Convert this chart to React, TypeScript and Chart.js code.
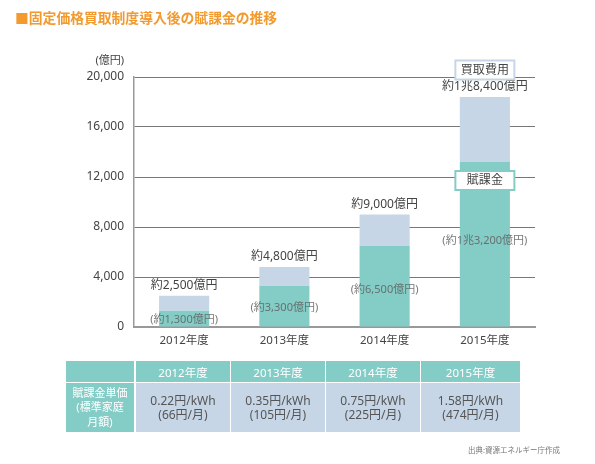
import React, { useEffect, useRef } from "react";
import { Chart, registerables } from "chart.js";

Chart.register(...registerables);

const categories = ["2012年度", "2013年度", "2014年度", "2015年度"];
const totals = [2500, 4800, 9000, 18400];
const levy = [1300, 3300, 6500, 13200];
const totalLabels = ["約2,500億円", "約4,800億円", "約9,000億円", "約1兆8,400億円"];
const levyLabels = ["(約1,300億円)", "(約3,300億円)", "(約6,500億円)", "(約1兆3,200億円)"];
const yTicks = [0, 4000, 8000, 12000, 16000, 20000];
const unitPrices = ["0.22円/kWh", "0.35円/kWh", "0.75円/kWh", "1.58円/kWh"];
const monthly = ["(66円/月)", "(105円/月)", "(225円/月)", "(474円/月)"];

const TEAL = "#84CDC7";
const BLUE = "#C6D6E6";
const FONT = '"Noto Sans", "Noto Sans CJK JP", sans-serif';

const labelPlugin = {
  id: "barLabels",
  afterDatasetsDraw(chart: any) {
    const { ctx, scales } = chart;
    const x = scales.x;
    const y = scales.y;
    const frac = [0.46, 0.46, 0.46, 0.525];
    ctx.save();
    ctx.textAlign = "center";
    ctx.textBaseline = "middle";
    categories.forEach((_, i) => {
      const px = x.getPixelForValue(i);
      ctx.font = `12px ${FONT}`;
      ctx.fillStyle = "#444";
      ctx.fillText(totalLabels[i], px, y.getPixelForValue(totals[i]) - 10);
      ctx.font = `11px ${FONT}`;
      ctx.fillStyle = "rgba(95,95,95,0.85)";
      ctx.fillText(levyLabels[i], px, y.getPixelForValue(levy[i] * frac[i]));
    });
    // legend boxes on the last bar
    const last = categories.length - 1;
    const bx = x.getPixelForValue(last);
    const drawBox = (text: string, cy: number, color: string) => {
      const w = 59;
      const h = 19;
      ctx.fillStyle = "#fff";
      ctx.fillRect(bx - w / 2, cy - h / 2, w, h);
      ctx.strokeStyle = color;
      ctx.lineWidth = 2;
      ctx.strokeRect(bx - w / 2, cy - h / 2, w, h);
      ctx.fillStyle = "#444";
      ctx.font = `12px ${FONT}`;
      ctx.fillText(text, bx, cy + 0.5);
    };
    drawBox("買取費用", y.getPixelForValue(20000) - 7, "#C6D6E6");
    drawBox("賦課金", y.getPixelForValue(12000) + 3.5, "#84CDC7");
    // unit label
    ctx.font = `11px ${FONT}`;
    ctx.fillStyle = "#444";
    ctx.textAlign = "right";
    ctx.fillText("(億円)", chart.chartArea.left - 10, y.getPixelForValue(20000) - 16);
    ctx.restore();
  },
};

function BarChart() {
  const ref = useRef<HTMLCanvasElement>(null);
  useEffect(() => {
    if (!ref.current) return;
    const chart = new Chart(ref.current, {
      type: "bar",
      data: {
        labels: categories,
        datasets: [
          {
            label: "賦課金",
            data: levy,
            backgroundColor: TEAL,
            stack: "s",
            barPercentage: 0.5,
            categoryPercentage: 1,
          },
          {
            label: "買取費用",
            data: totals.map((t, i) => t - levy[i]),
            backgroundColor: BLUE,
            stack: "s",
            barPercentage: 0.5,
            categoryPercentage: 1,
          },
        ],
      },
      options: {
        animation: false,
        responsive: false,
        maintainAspectRatio: false,
        layout: { padding: { left: 0, right: 60, top: 77, bottom: 107 } },
        plugins: { legend: { display: false }, tooltip: { enabled: false } },
        scales: {
          x: {
            stacked: true,
            grid: { display: false, drawTicks: false },
            border: { display: true, color: "#999", width: 2 },
            ticks: { color: "#444", font: { family: FONT, size: 11.5 }, padding: 7 },
            afterFit: (axis: any) => {
              axis.height = 30;
            },
          },
          y: {
            stacked: true,
            min: 0,
            max: 20000,
            afterBuildTicks: (axis: any) => {
              axis.ticks = yTicks.map((v) => ({ value: v }));
            },
            grid: { color: "#777", lineWidth: 1, drawTicks: false },
            border: { display: true, color: "#999", width: 1.5 },
            ticks: {
              color: "#444",
              font: { family: FONT, size: 12 },
              padding: 10,
              callback: (v: any) => Number(v).toLocaleString("en-US"),
            },
            afterFit: (axis: any) => {
              axis.width = 134;
            },
          },
        },
      },
      plugins: [labelPlugin],
    });
    return () => chart.destroy();
  }, []);
  return (
    <canvas
      ref={ref}
      width={595}
      height={464}
      style={{ position: "absolute", left: 0, top: 0, width: 595, height: 464 }}
    />
  );
}

const colPos = [
  [136, 94],
  [231, 94],
  [326, 94],
  [421, 99],
];

export default function App() {
  useEffect(() => {
    document.body.style.margin = "0";
  }, []);
  const cell: React.CSSProperties = {
    position: "absolute",
    display: "flex",
    alignItems: "center",
    justifyContent: "center",
    textAlign: "center",
    fontFamily: FONT,
  };
  return (
    <div style={{ position: "relative", width: 595, height: 464, background: "#fff", overflow: "hidden" }}>
      <BarChart />
      <div
        style={{
          position: "absolute",
          left: 15,
          top: 9,
          fontFamily: FONT,
          fontSize: 13.8,
          fontWeight: 700,
          color: "#F29A2E",
          lineHeight: "18px",
          whiteSpace: "nowrap",
        }}
      >
        ■固定価格買取制度導入後の賦課金の推移
      </div>
      {/* table */}
      <div style={{ ...cell, left: 66, top: 361, width: 68, height: 21, background: TEAL }} />
      <div
        style={{
          ...cell,
          left: 66,
          top: 383,
          width: 68,
          height: 49,
          background: TEAL,
          color: "#fff",
          fontSize: 11,
          lineHeight: "14.2px",
        }}
      >
        <div>
          賦課金単価
          <br />
          (標準家庭
          <br />
          月額)
        </div>
      </div>
      {categories.map((c, i) => (
        <React.Fragment key={c}>
          <div
            style={{
              ...cell,
              left: colPos[i][0],
              top: 361,
              width: colPos[i][1],
              height: 21,
              background: TEAL,
              color: "#fff",
              fontSize: 11.5,
            }}
          >
            {c}
          </div>
          <div
            style={{
              ...cell,
              left: colPos[i][0],
              top: 383,
              width: colPos[i][1],
              height: 49,
              background: BLUE,
              color: "#555",
              fontSize: 12,
              lineHeight: "13.5px",
            }}
          >
            <div>
              {unitPrices[i]}
              <br />
              {monthly[i]}
            </div>
          </div>
        </React.Fragment>
      ))}
      <div
        style={{
          position: "absolute",
          right: 35,
          top: 445,
          fontFamily: FONT,
          fontSize: 7.5,
          color: "#777",
          lineHeight: "10px",
          whiteSpace: "nowrap",
        }}
      >
        出典:資源エネルギー庁作成
      </div>
    </div>
  );
}
